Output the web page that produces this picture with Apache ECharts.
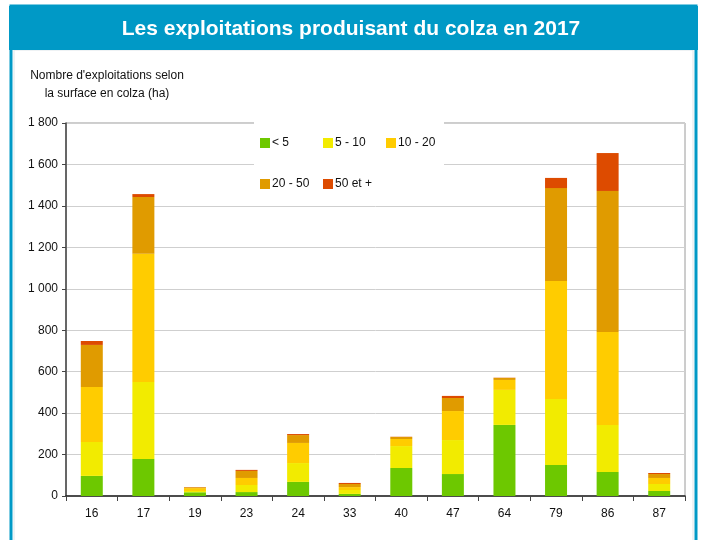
<!DOCTYPE html>
<html>
<head>
<meta charset="utf-8">
<script src="https://cdn.jsdelivr.net/npm/echarts@6/dist/echarts.min.js"></script>
<style>
  html, body { margin: 0; padding: 0; background: #fff; }
  #chart { width: 702px; height: 540px; }
</style>
</head>
<body>
<div id="chart"></div>
<script>
// départements
var categories = ['16', '17', '19', '23', '24', '33', '40', '47', '64', '79', '86', '87'];
// nombre d'exploitations par classe de surface en colza
var moins5   = [97, 179, 18, 19, 68, 10, 135, 106, 343, 150, 116, 24];
var de5a10   = [164, 371, 6, 34, 91, 19, 106, 164, 169, 318, 227, 34];
var de10a20  = [265, 619, 14, 34, 97, 14, 34, 140, 48, 570, 448, 29];
var de20a50  = [203, 274, 4, 34, 38, 15, 10, 63, 10, 448, 681, 19];
var plus50   = [19, 14, 1, 5, 5, 5, 1, 10, 1, 49, 183, 5];
var seriesNames = ['< 5', '5 - 10', '10 - 20', '20 - 50', '50 et +'];
var colors = ['#6dc800', '#f2eb00', '#ffcc00', '#e09b00', '#dd4b00'];

var chart = echarts.init(document.getElementById('chart'));

var blue = '#0099c6';
var font = 'Liberation Sans, Arial, sans-serif';

function serie(name, data, color) {
  return {
    name: name,
    type: 'bar',
    stack: 'total',
    barWidth: 22,
    itemStyle: { color: color },
    data: data
  };
}

// une légende par élément, placée en grille (3 par ligne)
var legendPos = [[260, 137], [323, 137], [386, 137], [260, 178], [323, 178]];
var legends = seriesNames.map(function (n, i) {
  return {
    data: [n],
    left: legendPos[i][0], top: legendPos[i][1],
    itemWidth: 10, itemHeight: 10,
    icon: 'rect',
    z: 6,
    padding: 0,
    textStyle: { fontSize: 12, color: '#111', fontFamily: font, padding: [0, 0, 0, -3] }
  };
});

var option = {
  backgroundColor: '#fff',
  animation: false,
  textStyle: { fontFamily: font },
  title: {
    text: 'Les exploitations produisant du colza en 2017',
    left: 'center',
    top: 14,
    textStyle: { color: '#fff', fontSize: 21, fontWeight: 'bold', fontFamily: font }
  },
  graphic: [
    // cadre bleu
    { type: 'rect', z: -10, shape: { x: 11, y: 6, width: 685, height: 600 },
      style: { fill: '#fff', stroke: blue, lineWidth: 3 } },
    { type: 'rect', z: -9, shape: { x: 14, y: 50, width: 679, height: 560 },
      style: { fill: 'none', stroke: '#dde6ea', lineWidth: 1 } },
    // bandeau du titre
    { type: 'rect', z: -8, shape: { x: 9, y: 6, width: 689, height: 44 },
      style: { fill: blue } },
    // titre de l'axe
    { type: 'text', z: 5, x: 107, y: 67,
      style: { text: "Nombre d'exploitations selon\nla surface en colza (ha)",
        textAlign: 'center', fontSize: 12, lineHeight: 18, fill: '#111', fontFamily: font } },
    // fond blanc sous la légende
    { type: 'rect', z: 3, shape: { x: 254, y: 121, width: 190, height: 77 },
      style: { fill: '#fff' } }
  ],
  legend: legends,
  grid: {
    left: 66, right: 17, top: 123, bottom: 44,
    show: true, borderColor: '#9a9a9a', borderWidth: 1
  },
  xAxis: {
    type: 'category',
    data: categories,
    axisLine: { lineStyle: { color: '#222', width: 1.5 } },
    axisTick: { show: true, length: 5, lineStyle: { color: '#444' } },
    axisLabel: { color: '#111', fontSize: 12, margin: 12 }
  },
  yAxis: {
    type: 'value',
    min: 0, max: 1800, interval: 200,
    axisLine: { show: true, lineStyle: { color: '#444', width: 1.5 } },
    axisTick: { show: true, length: 4, lineStyle: { color: '#444' } },
    splitLine: { lineStyle: { color: '#cfcfcf', width: 1 } },
    axisLabel: {
      color: '#111', fontSize: 12, margin: 8,
      formatter: function (v) {
        return String(v).replace(/\B(?=(\d{3})+(?!\d))/g, ' ');
      }
    }
  },
  series: [
    serie(seriesNames[0], moins5, colors[0]),
    serie(seriesNames[1], de5a10, colors[1]),
    serie(seriesNames[2], de10a20, colors[2]),
    serie(seriesNames[3], de20a50, colors[3]),
    serie(seriesNames[4], plus50, colors[4])
  ]
};

chart.setOption(option);
window.onresize = chart.resize;
</script>
</body>
</html>
